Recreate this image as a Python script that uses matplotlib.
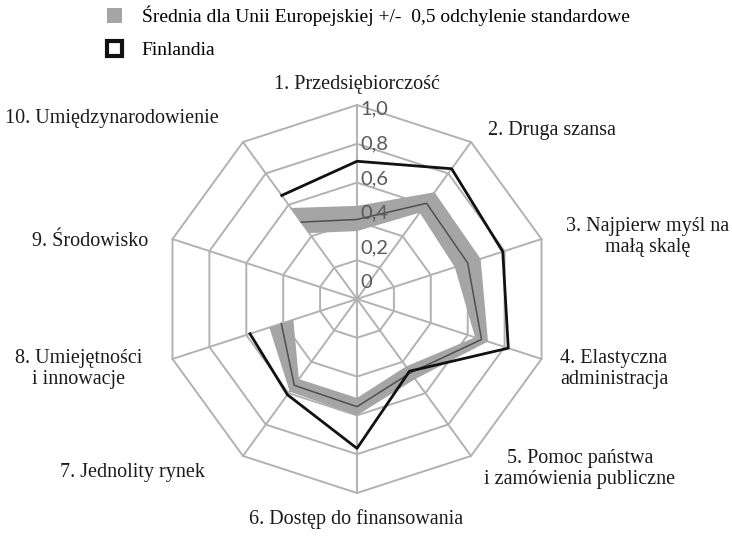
import numpy as np
import matplotlib
matplotlib.use("Agg")
import matplotlib.pyplot as plt
from matplotlib.patches import Patch
import matplotlib.transforms as mtransforms

categories = ["1. Przedsiębiorczość", "2. Druga szansa", "3. Najpierw myśl na\nmałą skalę",
              "4. Elastyczna\nadministracja", "5. Pomoc państwa\ni zamówienia publiczne",
              "6. Dostęp do finansowania", "7. Jednolity rynek", "8. Umiejętności\ni innowacje",
              "9. Środowisko", "10. Umiędzynarodowienie"]
finland = [0.71, 0.83, 0.79, 0.82, 0.46, 0.77, 0.61, 0.58, np.nan, 0.66]
eu_mean = [0.41, 0.61, 0.60, 0.675, 0.47, 0.555, 0.55, 0.41, np.nan, 0.49]
eu_low = [0.35, 0.55, 0.53, 0.64, 0.43, 0.51, 0.51, 0.345, np.nan, 0.42]
eu_high = [0.48, 0.68, 0.67, 0.71, 0.51, 0.60, 0.59, 0.475, np.nan, 0.58]
ticks = [0, 0.2, 0.4, 0.6, 0.8, 1.0]
tick_labels = ["0", "0,2", "0,4", "0,6", "0,8", "1,0"]
legend_labels = ["Średnia dla Unii Europejskiej +/-  0,5 odchylenie standardowe", "Finlandia"]

W, H = 732, 539
fig = plt.figure(figsize=(W / 100, H / 100), dpi=100)
plt.rcParams['font.family'] = ['Liberation Serif', 'DejaVu Serif']

cx, cy, R = 357, 299, 194
ax = fig.add_axes([(cx - R) / W, 1 - (cy + R) / H, 2 * R / W, 2 * R / H], projection='polar')
ax.set_theta_offset(np.pi / 2)
ax.set_theta_direction(-1)
ax.set_ylim(0, 1)
ax.grid(False)
ax.spines['polar'].set_visible(False)
ax.set_xticks([])
ax.set_yticks([])
ax.patch.set_alpha(0)

n = len(categories)
theta = np.arange(n) * 2 * np.pi / n
grid_c = '#b2b2b2'
# decagon rings
th_closed = np.append(theta, theta[0])
for t in ticks[1:]:
    ax.plot(th_closed, [t] * (n + 1), color=grid_c, lw=1.4, zorder=1, clip_on=False)
for th in theta:
    ax.plot([th, th], [0, 1], color=grid_c, lw=1.4, zorder=1, clip_on=False)

# rolled sequences: start at axis 10, go to axis 8 (axis 9 missing)
order = np.roll(np.arange(n), 1)
th_seq = theta[order]
fin = np.array(finland)[order]
mean = np.array(eu_mean)[order]
low = np.array(eu_low)[order]
high = np.array(eu_high)[order]
valid = ~np.isnan(high)
tv = th_seq[valid]
ax.fill(np.concatenate([tv, tv[::-1]]), np.concatenate([high[valid], low[valid][::-1]]),
        color='#a5a5a5', lw=0, zorder=2)
ax.plot(th_seq, mean, color='#505050', lw=1.1, zorder=3)
ax.plot(th_seq, fin, color='#111111', lw=2.0, zorder=4)

# radial tick labels
off = mtransforms.ScaledTranslation(3 / 100, 0, fig.dpi_scale_trans)
for t, lab in zip(ticks, tick_labels):
    ax.text(0, 0.085 + 0.894 * t, lab, transform=ax.transData + off, ha='left', va='center',
            fontsize=14.5, color='#5a5a5a', family=['Lato', 'DejaVu Sans'], zorder=5)

# category labels
pos = [(357, 85, 'center'), (488, 130, 'left'), (648, 237, 'center'),
       (614, 369, 'center'), (580, 469, 'center'), (356, 519, 'center'),
       (60, 473, 'left'), (79, 369, 'center'), (32, 241, 'left'),
       (5, 118, 'left')]
for lab, (x, y, ha) in zip(categories, pos):
    fig.text(x / W, 1 - y / H, lab, ha=ha, va='center', multialignment='center',
             fontsize=14.5, color='#1a1a1a', linespacing=1.12)

handles = [Patch(facecolor='#a5a5a5', edgecolor='none'),
           Patch(facecolor='white', edgecolor='#111111', lw=3)]
fig.legend(handles, legend_labels, loc='upper left', bbox_to_anchor=(107 / W, 1 - 6 / H),
           frameon=False, fontsize=14, handlelength=0.78, handleheight=0.78,
           handletextpad=1.0, labelspacing=0.75, borderaxespad=0, borderpad=0)

fig.savefig('out.png', dpi=100)
